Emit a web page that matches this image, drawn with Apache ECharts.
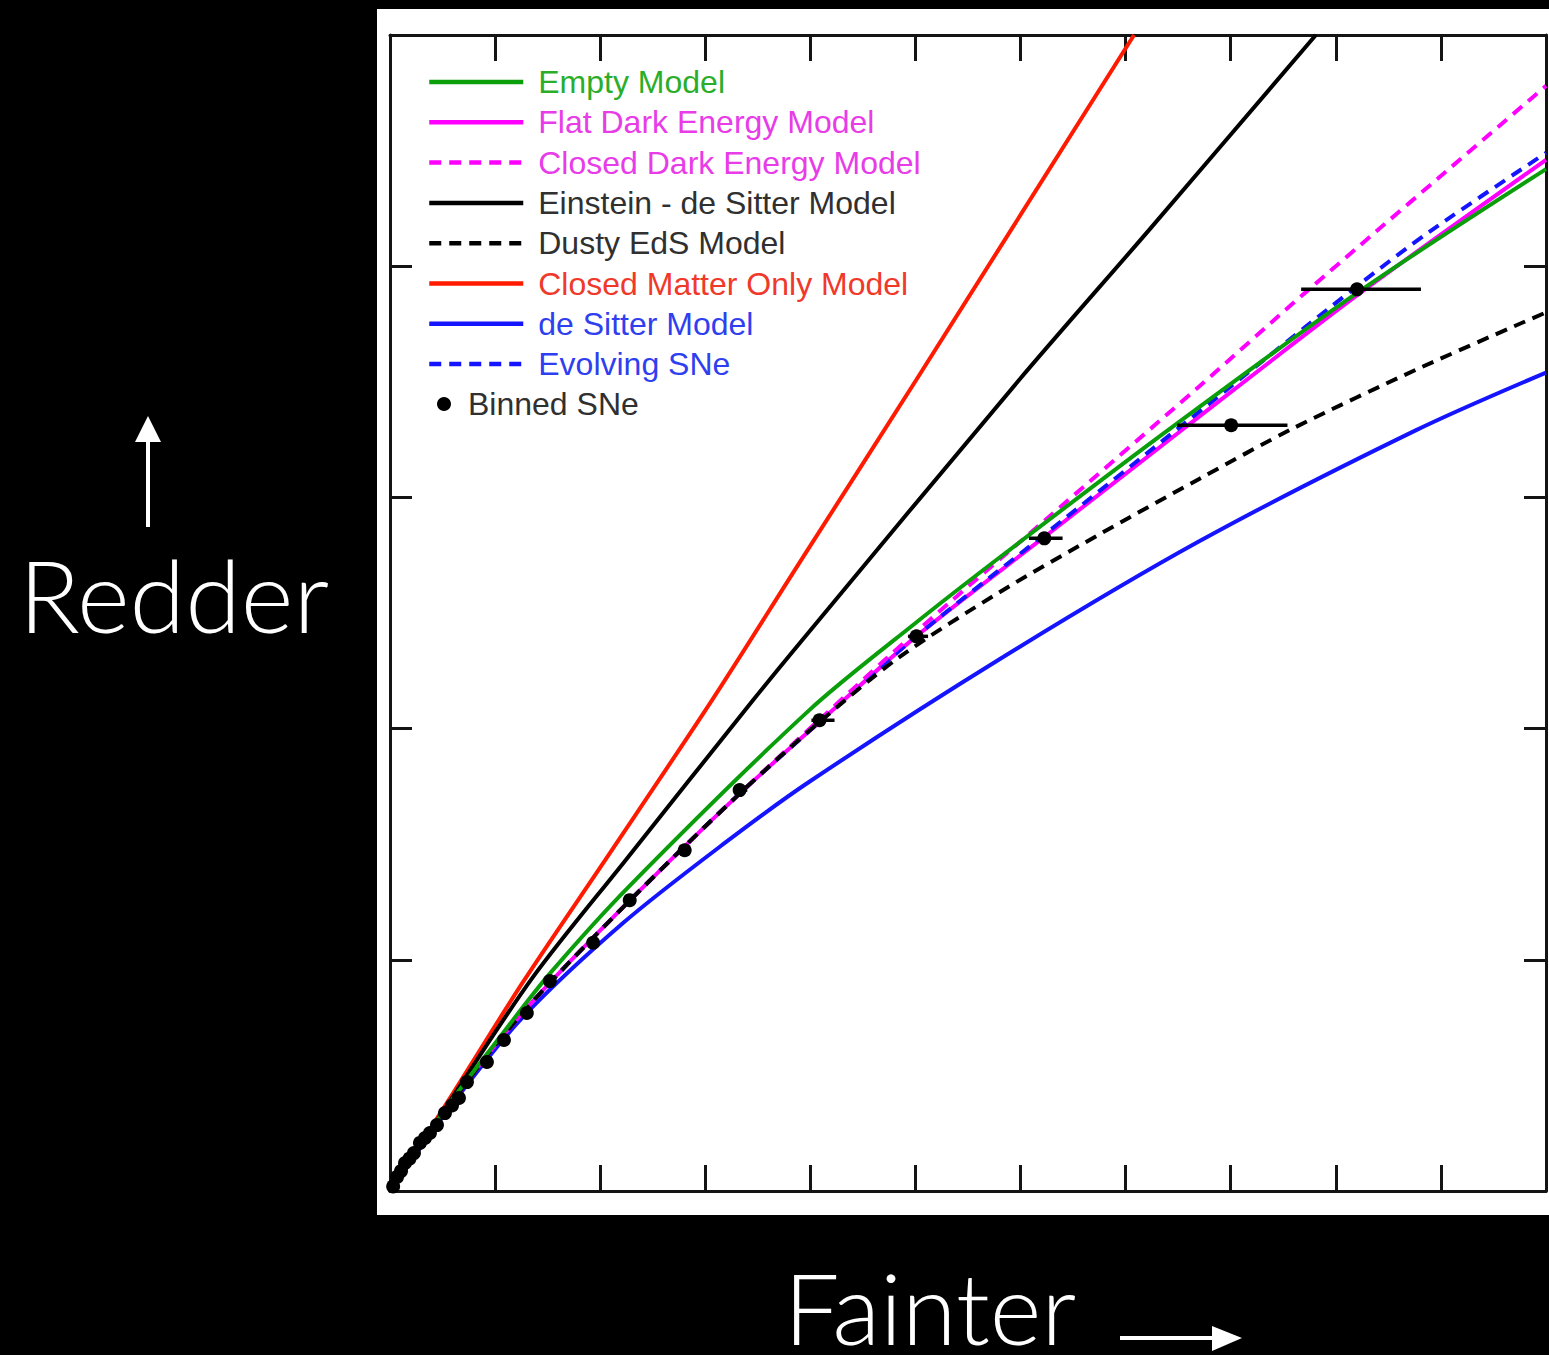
<!DOCTYPE html>
<html>
<head>
<meta charset="utf-8">
<title>Supernova models: fainter vs redder</title>
<script src="https://cdn.jsdelivr.net/npm/echarts@6/dist/echarts.min.js"></script>
<style>
  html, body { margin: 0; padding: 0; background: #000; }
  #panel { position: absolute; left: 377px; top: 9px; width: 1172px; height: 1206px; background: #fff; }
  #chart { position: absolute; left: 0; top: 0; width: 1549px; height: 1355px; }
</style>
</head>
<body>
<div id="panel"></div>
<div id="chart"></div>
<script>
// Model curves, [faintness, redness] pairs
const emptyModel = [[0,0],[0.52,0.35],[1.07,0.68],[1.52,0.94],[2.28,1.32],[3.99,2.08],[5.01,2.46],[5.80,2.74],[7.40,3.29],[9.22,3.89],[11,4.42]];
const flatDarkEnergy = [[0,0],[0.52,0.34],[1.0,0.63],[1.52,0.90],[2.4,1.31],[3.33,1.72],[4.09,2.03],[5.01,2.40],[6.23,2.83],[7.56,3.30],[9.22,3.88],[11,4.46]];
const closedDarkEnergy = [[0,0],[0.52,0.34],[1.0,0.63],[1.52,0.90],[2.4,1.31],[3.33,1.72],[4.09,2.04],[5.01,2.42],[6.23,2.90],[7.70,3.48],[8.72,3.89],[11,4.78]];
const einsteinDeSitter = [[0,0],[0.55,0.375],[1.36,0.925],[2.24,1.43],[3.45,2.12],[3.90,2.37],[5.99,3.51],[7.22,4.155],[8.81,5.0]];
const dustyEdS = [[0,0],[0.52,0.34],[1.0,0.63],[1.52,0.90],[2.4,1.31],[3.33,1.72],[4.09,2.03],[4.85,2.31],[5.80,2.59],[6.75,2.84],[7.70,3.08],[8.60,3.30],[9.80,3.56],[11,3.80]];
const closedMatterOnly = [[0,0],[0.54,0.38],[1.26,0.90],[2.06,1.44],[3.06,2.12],[3.90,2.72],[5.01,3.51],[7.08,5.0]];
const deSitter = [[0,0],[0.60,0.38],[1.26,0.75],[2.22,1.16],[3.17,1.50],[3.99,1.77],[5.80,2.30],[7.70,2.81],[9.76,3.29],[11,3.54]];
const evolvingSNe = [[0,0],[0.52,0.34],[1.0,0.63],[1.52,0.90],[2.4,1.31],[3.33,1.72],[4.09,2.03],[5.01,2.40],[6.23,2.84],[7.56,3.32],[9.22,3.92],[9.91,4.155],[11,4.49]];

// Binned supernovae
const binnedX = [0.03,0.067,0.105,0.143,0.185,0.228,0.285,0.333,0.380,0.447,0.523,0.590,0.656,0.732,0.922,1.084,1.302,1.521,1.933,2.281,2.804,3.327,4.087,5.010,6.226,8.004,9.202];
const binnedY = [0.02,0.061,0.086,0.121,0.140,0.164,0.208,0.229,0.251,0.285,0.337,0.370,0.402,0.471,0.558,0.653,0.770,0.908,1.074,1.258,1.474,1.734,2.036,2.399,2.823,3.312,3.900];

// Horizontal error bars of the binned points
const errY  = [1.734, 2.036, 2.399, 2.823, 3.312, 3.900];
const errLo = [3.28, 4.01, 4.93, 6.08, 7.49, 8.67];
const errHi = [3.40, 4.23, 5.12, 6.40, 8.54, 9.81];

// Axis ranges (no tick labels are printed)
const xRange = [0, 11];
const yRange = [0, 5];

const legendNames = ['Empty Model','Flat Dark Energy Model','Closed Dark Energy Model','Einstein - de Sitter Model','Dusty EdS Model','Closed Matter Only Model','de Sitter Model','Evolving SNe'];
const legendColors = ['#2aae2a','#e83ce8','#e83ce8','#303030','#303030','#f0392a','#2f3ff0','#2f3ff0'];

const GREEN = '#0a9e0a', MAGENTA = '#ff00ff', RED = '#ff1a00', BLUE = '#1414ff', BLACK = '#000000';

const chart = echarts.init(document.getElementById('chart'), null, { renderer: 'svg' });

function lineSeries(name, data, color, dashed) {
  return {
    name: name, type: 'line', data: data,
    symbol: 'none', showSymbol: false,
    smooth: 0.3,
    lineStyle: { color: color, width: 4, type: dashed ? [12, 8] : 'solid' },
    itemStyle: { color: color },
    emphasis: { disabled: true },
    animation: false
  };
}

const frameAxis = {
  type: 'value', splitLine: { show: false },
  axisLabel: { show: false },
  axisLine: { show: true, onZero: false, lineStyle: { color: '#141414', width: 3 } },
  axisTick: { show: true, inside: true, length: 26, lineStyle: { color: '#141414', width: 3 } }
};

const legendText = { fontFamily: 'Liberation Sans, Arial, sans-serif', fontSize: 32, lineHeight: 32 };

const option = {
  backgroundColor: 'transparent',
  animation: false,
  grid: { left: 390, top: 35, width: 1156, height: 1156 },
  xAxis: [
    Object.assign({}, frameAxis, { min: xRange[0], max: xRange[1], interval: 1, position: 'bottom' }),
    Object.assign({}, frameAxis, { min: xRange[0], max: xRange[1], interval: 1, position: 'top' })
  ],
  yAxis: [
    Object.assign({}, frameAxis, { min: yRange[0], max: yRange[1], interval: 1, position: 'left',
      axisTick: { show: true, inside: true, length: 22, lineStyle: { color: '#141414', width: 3 } } }),
    Object.assign({}, frameAxis, { min: yRange[0], max: yRange[1], interval: 1, position: 'right',
      axisTick: { show: true, inside: true, length: 22, lineStyle: { color: '#141414', width: 3 } } })
  ],
  legend: [
    {
      orient: 'vertical', left: 427, top: 66, padding: 0,
      itemWidth: 94, itemHeight: 14, itemGap: 8.3,
      selectedMode: false,
      itemStyle: { opacity: 0 },
      lineStyle: { width: 4.5 },
      data: legendNames.map((n, i) => ({ name: n, textStyle: { color: legendColors[i] } })),
      textStyle: Object.assign({ padding: [0, 0, 0, 10] }, legendText)
    },
    {
      orient: 'vertical', left: 437, top: 388, padding: 0,
      itemWidth: 14, itemHeight: 14,
      selectedMode: false,
      data: [{ name: 'Binned SNe', textStyle: { color: '#303030' } }],
      textStyle: Object.assign({ padding: [0, 0, 0, 12] }, legendText)
    }
  ],
  series: [
    lineSeries('de Sitter Model', deSitter, BLUE, false),
    lineSeries('Closed Matter Only Model', closedMatterOnly, RED, false),
    lineSeries('Einstein - de Sitter Model', einsteinDeSitter, BLACK, false),
    lineSeries('Flat Dark Energy Model', flatDarkEnergy, MAGENTA, false),
    lineSeries('Evolving SNe', evolvingSNe, BLUE, true),
    lineSeries('Closed Dark Energy Model', closedDarkEnergy, MAGENTA, true),
    lineSeries('Dusty EdS Model', dustyEdS, BLACK, true),
    lineSeries('Empty Model', emptyModel, GREEN, false),
    {
      name: 'errors', type: 'custom', silent: true, animation: false,
      data: errY.map((y, i) => [errLo[i], errHi[i], y]),
      encode: { x: [0, 1], y: 2 },
      renderItem: function (params, api) {
        const a = api.coord([api.value(0), api.value(2)]);
        const b = api.coord([api.value(1), api.value(2)]);
        return { type: 'line', shape: { x1: a[0], y1: a[1], x2: b[0], y2: b[1] },
                 style: { stroke: '#000', lineWidth: 3.5 } };
      },
      z: 5
    },
    {
      name: 'Binned SNe', type: 'scatter', symbol: 'circle', symbolSize: 14,
      data: binnedX.map((x, i) => [x, binnedY[i]]),
      itemStyle: { color: '#000', opacity: 1 },
      emphasis: { disabled: true },
      z: 6, animation: false
    }
  ],
  graphic: [
    // "Redder" with an upward arrow
    { type: 'line', shape: { x1: 148, y1: 527, x2: 148, y2: 438 }, style: { stroke: '#fff', lineWidth: 4 }, silent: true },
    { type: 'polygon', shape: { points: [[135, 442], [161, 442], [148, 416]] }, style: { fill: '#fff' }, silent: true },
    { type: 'text', x: 174, y: 594, silent: true,
      style: { text: 'Redder', fill: '#fff', font: '300 101px Lato, "Open Sans", sans-serif', lineHeight: 80, align: 'center', verticalAlign: 'middle' } },
    // "Fainter" with a rightward arrow
    { type: 'text', x: 930, y: 1306, silent: true,
      style: { text: 'Fainter', fill: '#fff', font: '300 99px Lato, "Open Sans", sans-serif', lineHeight: 70, align: 'center', verticalAlign: 'middle' } },
    { type: 'line', shape: { x1: 1120, y1: 1338, x2: 1216, y2: 1338 }, style: { stroke: '#fff', lineWidth: 4 }, silent: true },
    { type: 'polygon', shape: { points: [[1212, 1326], [1212, 1351], [1242, 1338]] }, style: { fill: '#fff' }, silent: true }
  ]
};

chart.setOption(option);
</script>
</body>
</html>
